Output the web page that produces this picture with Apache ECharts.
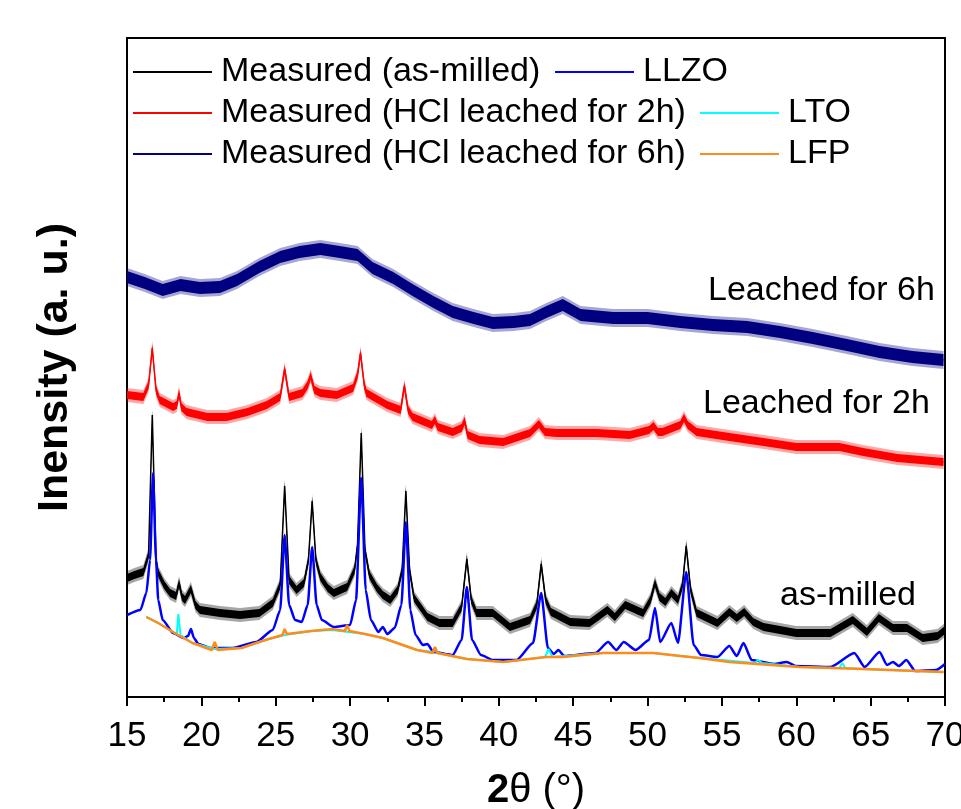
<!DOCTYPE html>
<html>
<head>
<meta charset="utf-8">
<script src="https://cdn.jsdelivr.net/npm/echarts@6/dist/echarts.min.js"></script>
<style>
  html, body { margin: 0; padding: 0; background: #fff; }
  #chart { width: 961px; height: 809px; }
</style>
</head>
<body>
<div id="chart"></div>
<script>
// 2theta (deg), intensity (a.u.)
var asMilled = [
  [15.0, 119], [15.5, 122], [16.1, 125], [16.45, 142], [16.7, 282], [16.95, 137], [17.1, 124],
  [17.5, 112], [17.9, 104], [18.3, 101], [18.5, 114], [18.7, 100], [18.9, 97], [19.3, 108],
  [19.6, 92], [19.9, 87], [21.25, 84], [22.6, 82], [23.9, 84], [24.8, 94], [25.3, 112],
  [25.6, 211], [25.9, 117], [26.4, 107], [26.9, 114], [27.2, 137], [27.45, 196], [27.7, 137],
  [28.0, 120], [28.5, 109], [28.9, 104], [29.8, 110], [30.3, 127], [30.5, 152], [30.75, 264],
  [31.0, 147], [31.3, 122], [31.8, 109], [32.2, 102], [32.7, 97], [33.2, 107], [33.5, 127],
  [33.75, 206], [34.0, 127], [34.3, 99], [35.2, 80], [36.0, 74], [36.9, 74], [37.5, 90],
  [37.85, 138], [38.15, 97], [38.5, 84], [39.6, 84], [40.75, 70], [42.1, 77], [42.55, 92],
  [42.85, 133], [43.15, 97], [43.5, 85], [44.8, 75], [46.1, 74], [47.3, 87], [47.8, 80],
  [48.5, 92], [49.7, 84], [50.2, 97], [50.5, 114], [50.8, 100], [51.2, 95], [51.6, 104],
  [52.05, 97], [52.35, 112], [52.6, 151], [52.9, 107], [53.3, 84], [54.7, 74], [55.5, 85],
  [56.0, 79], [56.5, 85], [57.1, 75], [57.8, 70], [60.0, 64], [62.3, 64], [63.8, 77],
  [64.75, 65], [65.55, 79], [66.5, 69], [67.45, 69], [68.5, 59], [69.5, 61], [70.0, 67]
];
var leached2h = [
  [15.0, 302], [16.1, 300], [16.45, 312], [16.7, 349], [16.95, 307], [17.2, 297], [18.1, 290],
  [18.35, 292], [18.5, 304], [18.65, 290], [19.0, 285], [20.4, 280], [21.7, 280], [23.1, 285],
  [24.4, 292], [25.3, 300], [25.6, 328], [25.9, 300], [26.8, 304], [27.15, 312], [27.35, 321],
  [27.6, 307], [28.0, 304], [29.1, 302], [30.2, 309], [30.5, 322], [30.7, 344], [30.95, 312],
  [31.1, 304], [32.5, 292], [33.4, 287], [33.65, 311], [33.9, 287], [34.2, 280], [35.5, 272],
  [35.7, 277], [35.9, 270], [36.9, 265], [37.5, 269], [37.7, 276], [37.9, 262], [38.7, 257],
  [40.3, 255], [42.1, 264], [42.7, 273], [43.1, 265], [43.9, 264], [46.6, 264], [48.8, 262],
  [50.1, 267], [50.4, 271], [50.7, 265], [51.0, 265], [52.2, 272], [52.45, 279], [52.7, 272],
  [53.3, 265], [55.5, 260], [57.8, 255], [60.0, 250], [62.9, 250], [64.5, 245], [66.8, 239],
  [69.9, 235]
];
var leached6h = [
  [15.0, 420], [16.2, 414], [17.4, 407], [18.6, 412], [19.9, 409], [21.25, 410], [22.4, 417],
  [23.9, 430], [25.3, 440], [26.6, 445], [28.0, 448], [29.3, 445], [30.5, 442], [31.5, 429],
  [32.9, 419], [34.2, 407], [35.6, 395], [36.9, 385], [38.3, 379], [39.6, 374], [41.0, 375],
  [42.1, 377], [43.2, 385], [44.3, 392], [45.5, 382], [47.7, 379], [50.0, 379], [52.2, 375],
  [54.4, 372], [56.7, 370], [58.9, 365], [61.1, 359], [63.4, 352], [65.6, 345], [67.8, 340],
  [69.9, 337]
];
var llzo = [
  [15.0, 82], [15.9, 87], [16.3, 104], [16.55, 137], [16.75, 224], [16.95, 137], [17.1, 97],
  [17.4, 77], [18.1, 64], [18.8, 59], [19.1, 61], [19.3, 68], [19.5, 59], [19.8, 53],
  [20.6, 49], [22.1, 49], [23.7, 55], [24.8, 67], [25.3, 87], [25.6, 162], [25.9, 92],
  [26.3, 77], [26.75, 75], [27.15, 92], [27.45, 150], [27.75, 92], [28.1, 77], [28.9, 70],
  [30.0, 72], [30.4, 97], [30.75, 219], [31.05, 107], [31.4, 77], [31.9, 65], [32.2, 70],
  [32.5, 63], [33.0, 69], [33.45, 92], [33.75, 175], [34.05, 87], [34.4, 62], [34.9, 52],
  [35.2, 53], [35.6, 45], [36.9, 42], [37.5, 57], [37.85, 110], [38.2, 57], [38.8, 42],
  [39.6, 37], [41.2, 37], [42.3, 54], [42.85, 104], [43.3, 49], [43.7, 43], [44.0, 47],
  [44.4, 41], [46.5, 44], [47.35, 55], [47.9, 47], [48.4, 55], [49.2, 47], [50.1, 57],
  [50.5, 89], [50.85, 55], [51.6, 74], [52.05, 54], [52.6, 125], [53.1, 52], [53.6, 42],
  [54.7, 40], [55.5, 51], [56.0, 41], [56.45, 54], [57.0, 37], [58.5, 33], [59.35, 35],
  [60.0, 31], [62.3, 30], [63.9, 44], [64.6, 30], [65.6, 45], [66.1, 32], [66.5, 35],
  [66.9, 31], [67.4, 37], [68.0, 26], [69.4, 27], [70.0, 33]
];
var lto = [
  [16.3, 80], [17.1, 74], [18.2, 64], [18.35, 64], [18.45, 83], [18.6, 62], [19.4, 54],
  [20.9, 48], [22.7, 49], [24.3, 57], [25.6, 62], [27.4, 66], [28.8, 67], [31.0, 63],
  [32.2, 59], [34.5, 47], [35.6, 45], [35.75, 49], [35.9, 44], [37.85, 38], [40.3, 35],
  [43.1, 40], [43.35, 48], [43.6, 40], [47.0, 44], [50.4, 44], [53.5, 39], [57.2, 34],
  [57.45, 37], [57.7, 34], [60.2, 30], [62.9, 29], [63.1, 34], [63.3, 29], [64.5, 28],
  [69.9, 25]
];
var lfp = [
  [16.3, 80], [17.1, 74], [18.2, 64], [19.4, 54], [20.7, 47], [20.9, 55], [21.1, 47],
  [22.7, 49], [24.3, 57], [25.45, 62], [25.6, 68], [25.75, 63], [27.4, 66], [28.8, 68],
  [29.65, 66], [29.8, 72], [29.95, 66], [31.0, 63], [32.2, 59], [34.5, 47], [35.55, 44],
  [35.7, 50], [35.85, 44], [37.85, 38], [40.3, 35], [43.2, 40], [44.3, 40], [47.0, 44],
  [50.4, 44], [52.2, 41], [53.5, 39], [55.5, 35], [60.2, 30], [64.5, 28], [69.9, 25]
];
var xTicks = { min: 15, max: 70, step: 5 };
var names = {
  am: 'Measured (as-milled)',
  h2: 'Measured (HCl leached for 2h)',
  h6: 'Measured (HCl leached for 6h)',
  llzo: 'LLZO', lto: 'LTO', lfp: 'LFP'
};

var FONT = '"Liberation Sans", Arial, Helvetica, sans-serif';

// noisy band drawn around the measured trace: solid core + faint fringe (half heights in px)
function band(pts, color, half) {
  function poly(api, h, opacity) {
    var up = [], lo = [];
    pts.forEach(function (p) {
      var c = api.coord(p);
      up.push([c[0], c[1] - h]);
      lo.unshift([c[0], c[1] + h]);
    });
    return {
      type: 'polygon',
      shape: { points: up.concat(lo) },
      style: { fill: color, opacity: opacity }
    };
  }
  return {
    type: 'custom',
    name: 'band',
    silent: true,
    clip: true,
    data: [pts[0]],
    renderItem: function (params, api) {
      return {
        type: 'group',
        children: [poly(api, half + 3, 0.35), poly(api, half, 1)]
      };
    }
  };
}

function line(name, pts, color, width, smooth) {
  return {
    type: 'line',
    name: name,
    data: pts,
    color: color,
    smooth: smooth || false,
    smoothMonotone: 'x',
    showSymbol: false,
    symbol: 'none',
    silent: true,
    lineStyle: { color: color, width: width },
    itemStyle: { color: color }
  };
}

function legendAt(data, left, top) {
  return {
    data: data,
    left: left,
    top: top,
    orient: 'vertical',
    icon: 'rect',
    itemWidth: 79,
    itemHeight: 2,
    itemGap: 7,
    selectedMode: false,
    padding: 0,
    itemStyle: { borderWidth: 0 },
    textStyle: { fontSize: 34, color: '#000', fontFamily: FONT, padding: [0, 0, 0, 4] }
  };
}

function note(text, x, y) {
  return {
    type: 'text', x: x, y: y,
    style: { text: text, fontSize: 34, fontFamily: FONT, fill: '#000', verticalAlign: 'middle' }
  };
}

var chart = echarts.init(document.getElementById('chart'));
chart.setOption({
  backgroundColor: '#fff',
  animation: false,
  grid: {
    left: 127, right: 16, top: 38, bottom: 112,
    outerBoundsMode: 'none',
    containLabel: false,
    show: true, borderColor: '#000', borderWidth: 2
  },
  legend: [
    legendAt([names.am, names.h2, names.h6], 133, 55),
    legendAt([names.llzo], 555, 55),
    legendAt([names.lto], 700, 96),
    legendAt([names.lfp], 700, 137)
  ],
  xAxis: {
    type: 'value',
    min: xTicks.min,
    max: xTicks.max,
    interval: xTicks.step,
    name: '{b|2}{n|θ (°)}',
    nameLocation: 'middle',
    nameGap: 74,
    nameTextStyle: {
      rich: {
        b: { fontSize: 40, fontWeight: 'bold', fontFamily: FONT, color: '#000' },
        n: { fontSize: 40, fontFamily: FONT, color: '#000' }
      }
    },
    axisLine: { lineStyle: { color: '#000', width: 2 } },
    axisTick: { inside: false, length: 9, lineStyle: { color: '#000', width: 2 } },
    minorTick: { show: true, splitNumber: 2, length: 5, lineStyle: { color: '#000', width: 2 } },
    axisLabel: { fontSize: 35, color: '#000', fontFamily: FONT, margin: 22 },
    splitLine: { show: false }
  },
  yAxis: {
    type: 'value',
    min: 0,
    max: 659,
    name: 'Inensity (a. u.)',
    nameLocation: 'middle',
    nameGap: 50,
    nameTextStyle: { fontSize: 43, fontWeight: 'bold', fontFamily: FONT, color: '#000' },
    axisLine: { show: false },
    axisTick: { show: false },
    axisLabel: { show: false },
    splitLine: { show: false }
  },
  graphic: [
    note('Leached for 6h', 708, 291),
    note('Leached for 2h', 703, 404),
    note('as-milled', 780, 596)
  ],
  series: [
    band(leached6h, '#000080', 6),
    band(leached2h, '#ff0000', 4),
    band(asMilled, '#000000', 4),
    line(names.h6, leached6h, '#000080', 1.5),
    line(names.h2, leached2h, '#ff0000', 1.5),
    line(names.am, asMilled, '#000000', 1.5),
    line(names.llzo, llzo, '#0000ff', 2.5, 0.2),
    line(names.lto, lto, '#00ffff', 2),
    line(names.lfp, lfp, '#ff8c1a', 2.5)
  ]
});
window.addEventListener('resize', function () { chart.resize(); });
</script>
</body>
</html>
